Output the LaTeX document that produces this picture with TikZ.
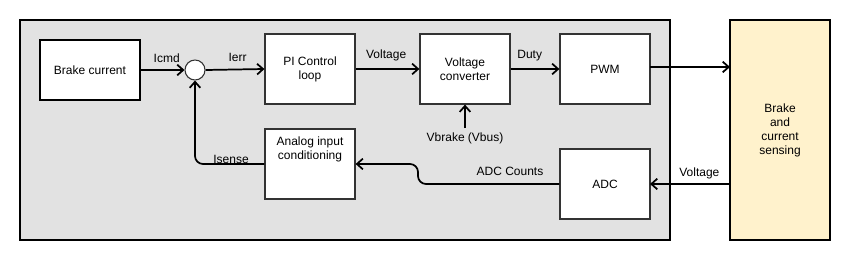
\documentclass[tikz,border=0pt]{standalone}
\usepackage{fontspec}
\setmainfont{Liberation Sans}
\usetikzlibrary{arrows.meta}
\definecolor{panelgray}{HTML}{E2E2E2}
\definecolor{sensefill}{HTML}{FFF2CC}
\definecolor{boxedge}{HTML}{333333}
\begin{document}
\begin{tikzpicture}[x=0.75pt,y=-0.75pt,
  font=\fontsize{9}{10.5}\selectfont,
  box/.style={draw=boxedge,line width=0.9pt,fill=white,align=center,inner sep=0pt},
  thickbox/.style={draw=black,line width=1.5pt,fill=white,align=center,inner sep=0pt},
  conn/.style={line width=1.3pt,-{Straight Barb[length=4.5pt,width=8pt,line width=1.3pt]}},
  lbl/.style={inner sep=0pt,anchor=center}]
\useasboundingbox (0,0) rectangle (856,260);
\node[draw=black,line width=0.8pt,fill=panelgray,minimum width=487.5pt,minimum height=165pt,inner sep=0pt] (panel) at (345,130) {};
\node[thickbox,minimum width=75pt,minimum height=45pt] (bc) at (90,70) {Brake current};
\node[draw=boxedge,line width=0.8pt,fill=white,circle,minimum size=15pt,inner sep=0pt] (sum) at (195,70) {};
\node[box,minimum width=67.5pt,minimum height=52.5pt] (pi) at (310,69) {PI Control\\loop};
\node[box,minimum width=67.5pt,minimum height=52.5pt] (vc) at (465,69) {Voltage\\converter};
\node[box,minimum width=67.5pt,minimum height=52.5pt] (pwm) at (605,69) {PWM};
\node[box,minimum width=67.5pt,minimum height=52.5pt] (adc) at (605,184) {ADC};
\node[box,minimum width=67.5pt,minimum height=52.5pt,
  label={[anchor=north,align=center,inner sep=0pt,yshift=-6pt]north:Analog input\\conditioning}] (aic) at (310,164) {};
\node[thickbox,fill=sensefill,minimum width=75pt,minimum height=165pt] (bs) at (780,130) {Brake\\and\\current\\sensing};
\node[lbl] (vb) at (465,138) {Vbrake (Vbus)};
\coordinate (vbtop) at (465,128);
\coordinate (pwmout) at (650,67);
\coordinate (bsin) at (730,67);
\coordinate (bsout) at (730,184);
\coordinate (adcin) at (650,184);

\draw[conn] (bc.east) -- node[lbl,above=5pt,xshift=3pt] {Icmd} (sum.west);
\draw[conn] (sum.east) -- node[lbl,above=5pt,xshift=2pt] {Ierr} (pi.west);
\draw[conn] (pi.east) -- node[lbl,above=5pt,xshift=-1pt] {Voltage} (vc.west);
\draw[conn] (vc.east) -- node[lbl,above=5pt,xshift=-4pt] {Duty} (pwm.west);
\draw[conn] (pwmout) -- (bsin);
\draw[conn] (vbtop) -- (vc.south);
\draw[conn] (bsout) -- node[lbl,above=3pt,xshift=7pt] {Voltage} (adcin);
\draw[conn,rounded corners=6pt] (adc.west) -- (418,184) -- (418,164) -- (aic.east);
\node[lbl] at (510,171) {ADC Counts};
\draw[conn,rounded corners=6pt] (aic.west) -- (195,164) -- (sum.south);
\node[lbl] at (231,159) {Isense};
\end{tikzpicture}
\end{document}
